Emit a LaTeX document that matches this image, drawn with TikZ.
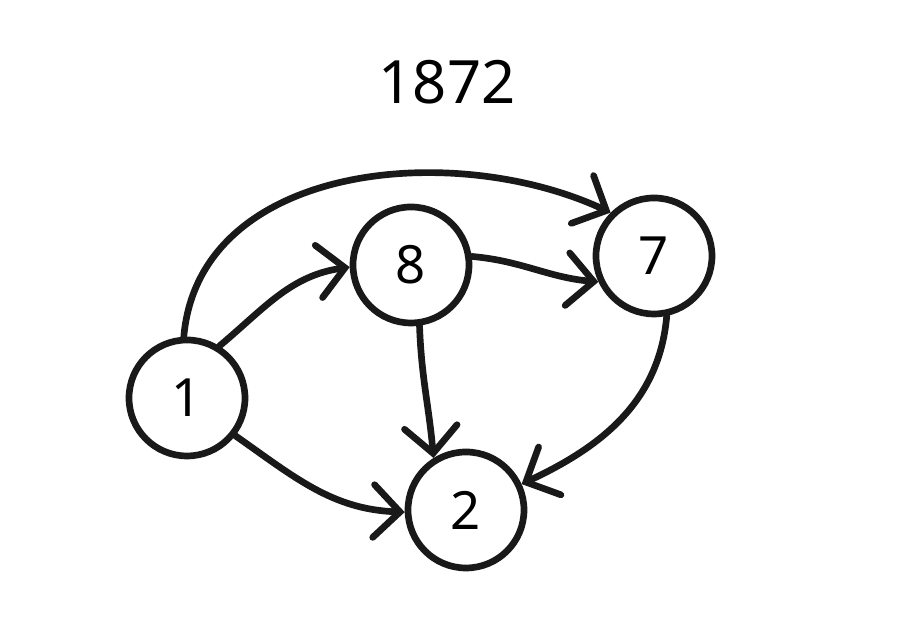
\documentclass[tikz,border=0pt]{standalone}
\usepackage{fontspec}
\setmainfont{Noto Sans}
\usetikzlibrary{positioning,arrows.meta}

\tikzset{
  vert/.style={circle, draw=black!90, line width=1.9pt, minimum size=1.16cm, inner sep=0pt, font=\fontsize{15}{15}\selectfont},
  link/.style={draw=black!90, line width=1.9pt, line cap=round, -{Straight Barb[length=7.5pt,width=15pt,line cap=round]}}
}

\begin{document}
\begin{tikzpicture}
  \useasboundingbox (0,0) rectangle (9.14,6.36);
  \node (title) at (4.47,5.54) {\fontsize{17}{17}\selectfont 1872};
  \node[vert] (v1) at (1.87,2.38) {1};
  \node[vert] (v8) at (4.11,3.71) {8};
  \node[vert] (v7) at (6.54,3.80) {7};
  \node[vert] (v2) at (4.66,1.26) {2};
  \path
    (v1.93) edge [link, out=85, in=155] (v7.135)
    (v1.58) edge [link, out=40, in=188] (v8.182)
    (v8.8) edge [link, out=-5, in=175] (v7.205)
    (v8.278) edge [link, out=-88, in=95] (v2.122)
    (v1.-38) edge [link, out=-35, in=178] (v2.182)
    (v7.-78) edge [link, out=-95, in=25] (v2.25);
\end{tikzpicture}
\end{document}
